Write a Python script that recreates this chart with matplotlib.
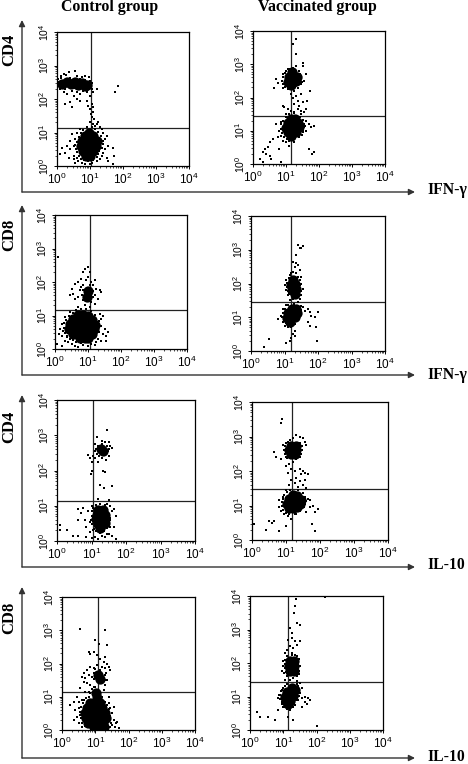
import numpy as np
import matplotlib
matplotlib.use("Agg")
import matplotlib.pyplot as plt

W, H = 468, 764

plt.rcParams['font.family'] = ['Liberation Sans', 'DejaVu Sans']
plt.rcParams['mathtext.default'] = 'regular'

tick_pos = [1, 10, 100, 1000, 10000]
tick_text = ['10$^{0}$', '10$^{1}$', '10$^{2}$', '10$^{3}$', '10$^{4}$']
group_names = ['Control group', 'Vaccinated group']
row_markers = ['CD4', 'CD8', 'CD4', 'CD8']
row_cytokines = ['IFN-γ', 'IFN-γ', 'IL-10', 'IL-10']
percents = ['1.36%', '17.12%', '1.18%', '23.04%', '13.59%', '14.56%', '4.04%', '18.57%']

# all events below are log10 decades: (x, y)
# core = solid black part of a population, dots = single events, rim = events at the blob edge
p1_core = [(0.15, 2.45), (0.3, 2.5), (0.42, 2.45), (0.55, 2.5), (0.65, 2.42), (0.75, 2.48), (0.85, 2.4), (0.92, 2.42),
           (0.98, 0.98), (0.85, 0.9), (1.1, 0.9), (0.75, 0.75), (0.9, 0.75), (1.05, 0.75), (1.2, 0.75), (0.72, 0.6),
           (0.87, 0.6), (1.02, 0.6), (1.17, 0.6), (0.78, 0.45), (0.93, 0.45), (1.08, 0.45), (0.88, 0.3), (1.0, 0.3)]
p1_dots = [(0.03, 2.6), (0.08, 2.3), (0.12, 2.7), (0.2, 2.75), (0.28, 2.72), (0.35, 2.8), (0.55, 2.85), (0.45, 2.25),
           (0.6, 2.7), (0.75, 2.65), (0.85, 2.7), (0.98, 2.65), (1.0, 2.55), (0.2, 2.2), (0.3, 2.15), (0.5, 2.1),
           (0.6, 2.2), (0.7, 2.15), (0.8, 2.25), (0.9, 2.2), (1.0, 2.1), (1.05, 2.3), (1.2, 2.3), (1.1, 2.2),
           (0.4, 1.9), (0.25, 1.85), (0.45, 1.75), (0.62, 2.0), (0.7, 1.95), (0.9, 1.95), (0.95, 1.8), (1.0, 1.7),
           (1.05, 1.85), (1.1, 1.75), (1.02, 1.55), (1.1, 1.6), (1.05, 1.45), (1.12, 1.4), (1.0, 1.3), (1.08, 1.25),
           (1.15, 1.2), (1.2, 1.25), (1.25, 1.3), (1.3, 1.15), (1.75, 2.22), (1.85, 2.38), (0.1, 0.35), (0.15, 0.55),
           (0.25, 0.4), (0.3, 0.6), (0.35, 0.25), (0.4, 0.5), (0.4, 0.75), (0.5, 0.3), (0.5, 0.2), (0.45, 0.95),
           (0.55, 0.1), (0.6, 0.25), (0.65, 0.15), (0.75, 0.1), (0.85, 0.05), (1.0, 0.05), (1.05, 0.1), (1.2, 0.15),
           (1.3, 0.2), (1.35, 0.3), (1.25, 0.35), (1.4, 0.4), (1.5, 0.25), (1.45, 0.5), (1.55, 0.6), (1.4, 0.65),
           (1.45, 0.8), (1.5, 0.9), (1.4, 1.0), (1.35, 1.1), (1.7, 0.05), (1.72, 0.3), (1.55, 0.15), (1.7, 0.55),
           (0.55, 0.8), (0.5, 0.6), (0.6, 1.0), (0.7, 1.1)]
p1_rim = [(0.55, 0.62), (0.58, 0.5), (0.6, 0.72), (0.62, 0.42), (0.66, 0.88), (0.68, 0.3), (0.72, 1.0), (0.74, 0.22),
          (0.8, 1.08), (0.82, 0.18), (0.9, 1.16), (0.95, 0.14), (1.05, 1.17), (1.1, 0.17), (1.15, 1.1), (1.2, 0.28),
          (1.25, 1.02), (1.28, 0.45), (1.32, 0.9), (1.35, 0.55), (1.38, 0.75), (1.3, 0.65), (0.05, 2.4), (0.05, 2.52),
          (0.25, 2.3), (0.4, 2.64), (0.55, 2.32), (0.7, 2.6), (0.85, 2.58), (1.03, 2.4), (1.06, 2.48), (0.12, 2.62)]

p2_core = [(1.18, 2.76), (1.08, 2.62), (1.22, 2.62), (1.32, 2.62), (1.06, 2.48), (1.2, 2.48), (1.3, 2.5), (1.15, 2.38),
           (1.15, 1.35), (1.28, 1.35), (1.05, 1.22), (1.2, 1.22), (1.35, 1.22), (1.0, 1.08), (1.14, 1.08), (1.28, 1.08),
           (1.4, 1.1), (1.05, 0.95), (1.2, 0.95), (1.3, 0.95), (1.15, 0.83)]
p2_dots = [(0.65, 2.3), (0.7, 2.55), (0.75, 2.45), (0.9, 2.3), (0.92, 2.7), (1.0, 2.8), (1.05, 2.25), (1.1, 2.85),
           (1.2, 2.9), (1.3, 2.95), (1.4, 2.8), (1.45, 2.65), (1.5, 2.95), (1.5, 3.05), (1.6, 2.7), (1.55, 2.5),
           (1.45, 2.4), (1.35, 2.3), (1.25, 2.2), (1.3, 3.75), (1.3, 3.3), (1.2, 3.6), (1.15, 2.1), (1.2, 2.0),
           (1.3, 2.05), (1.45, 2.1), (1.72, 2.2), (1.65, 1.9), (1.35, 1.9), (1.25, 1.8), (1.4, 1.75), (1.5, 1.85),
           (0.95, 1.7), (1.05, 1.65), (1.15, 1.6), (1.25, 1.55), (1.35, 1.65), (1.45, 1.6), (1.55, 1.55), (1.6, 1.65),
           (0.9, 1.75), (1.0, 1.5), (0.7, 1.2), (0.8, 1.0), (0.85, 1.25), (0.85, 0.85), (0.9, 0.7), (1.0, 0.65),
           (1.1, 0.55), (1.25, 0.65), (1.4, 0.8), (1.5, 0.95), (1.55, 1.2), (1.6, 1.3), (1.75, 1.1), (1.85, 1.15),
           (1.7, 1.2), (1.6, 1.0), (1.45, 1.5), (0.75, 0.8), (0.6, 0.75), (0.5, 0.65), (0.45, 0.5), (0.35, 0.45),
           (0.3, 0.35), (0.4, 0.3), (0.5, 0.25), (0.2, 0.15), (0.3, 0.05), (0.8, 0.45), (0.85, 0.05), (0.55, 0.15),
           (1.7, 0.45), (1.8, 0.3), (1.85, 0.35)]
p2_rim = [(0.88, 2.5), (0.9, 2.62), (0.92, 2.42), (0.96, 2.74), (0.98, 2.32), (1.05, 2.86), (1.45, 2.58), (1.48, 2.48),
          (1.42, 2.72), (1.38, 2.4), (0.84, 1.05), (0.86, 1.2), (0.88, 0.92), (0.92, 1.3), (0.95, 0.8), (1.0, 1.42),
          (1.02, 0.75), (1.1, 1.5), (1.1, 0.68), (1.25, 1.52), (1.25, 0.74), (1.38, 0.88), (1.42, 1.4), (1.5, 1.32),
          (1.55, 1.1), (1.52, 1.02), (1.58, 1.15), (1.48, 0.88)]

p3_core = [(0.7, 1.02), (0.85, 1.02), (1.0, 1.0), (0.55, 0.9), (0.7, 0.88), (0.85, 0.88), (1.0, 0.88), (1.13, 0.88),
           (0.45, 0.75), (0.6, 0.75), (0.75, 0.75), (0.9, 0.75), (1.05, 0.75), (1.2, 0.72), (0.42, 0.6), (0.57, 0.6),
           (0.72, 0.6), (0.87, 0.6), (1.02, 0.6), (1.17, 0.6), (0.55, 0.45), (0.7, 0.45), (0.85, 0.45), (1.0, 0.45),
           (1.12, 0.45), (0.75, 0.32), (0.9, 0.32), (1.0, 0.32), (0.98, 1.55), (1.0, 1.72)]
p3_dots = [(0.1, 2.75), (0.85, 2.3), (0.9, 2.4), (1.0, 2.45), (1.05, 2.3), (1.0, 2.15), (0.95, 2.05), (0.8, 2.1),
           (0.7, 2.0), (0.6, 1.95), (0.5, 1.8), (0.55, 1.65), (0.45, 1.6), (0.6, 1.5), (0.7, 1.55), (0.75, 1.75),
           (0.8, 1.85), (0.85, 1.45), (1.15, 1.9), (1.25, 1.8), (1.35, 1.75), (1.4, 1.7), (1.2, 1.6), (1.3, 1.5),
           (1.1, 2.0), (1.2, 2.05), (1.1, 1.4), (1.2, 1.35), (0.9, 1.3), (1.05, 1.25), (0.7, 1.25), (0.45, 1.1),
           (0.3, 0.95), (0.2, 0.75), (0.15, 0.6), (0.2, 0.4), (0.3, 0.25), (0.4, 0.2), (0.05, 0.15), (0.2, 0.1),
           (0.35, 0.35), (0.5, 0.15), (0.6, 0.1), (0.7, 0.05), (0.85, 0.12), (1.0, 0.08), (1.1, 0.15), (1.25, 0.2),
           (1.3, 0.3), (1.4, 0.25), (1.45, 0.45), (1.55, 0.4), (1.5, 0.6), (1.38, 0.7), (1.4, 0.9), (1.35, 1.05),
           (1.45, 1.0), (1.25, 0.4), (1.55, 0.25), (1.6, 0.5), (1.2, 0.12), (0.25, 0.55), (0.12, 0.45)]
p3_rim = [(0.26, 0.62), (0.28, 0.78), (0.3, 0.48), (0.34, 0.88), (0.36, 0.4), (0.42, 1.0), (0.44, 0.3), (0.55, 1.08),
          (0.55, 0.26), (0.65, 1.16), (0.65, 0.2), (0.8, 1.18), (0.8, 0.18), (0.95, 1.2), (0.95, 0.2), (1.1, 1.12),
          (1.1, 0.28), (1.2, 1.02), (1.22, 0.36), (1.32, 0.85), (1.34, 0.52), (1.36, 0.68), (0.82, 1.6), (0.84, 1.75),
          (0.86, 1.9), (1.14, 1.55), (1.15, 1.72), (1.05, 1.92)]

p4_core = [(1.25, 2.1), (1.32, 2.0), (1.2, 1.95), (1.33, 1.85), (1.22, 1.8), (1.3, 1.7),
           (1.22, 1.25), (1.35, 1.25), (1.1, 1.12), (1.22, 1.1), (1.36, 1.12), (1.08, 0.98), (1.2, 0.98), (1.3, 1.0),
           (1.15, 0.87)]
p4_dots = [(1.4, 3.15), (1.45, 3.05), (1.5, 3.05), (1.55, 3.1), (1.35, 2.85), (1.25, 2.65), (1.35, 2.6), (1.3, 2.5),
           (1.4, 2.55), (1.45, 2.4), (1.25, 2.35), (1.2, 2.3), (1.35, 2.3), (1.5, 2.2), (1.05, 2.1), (1.0, 1.95),
           (1.03, 1.8), (1.1, 1.65), (1.5, 2.0), (1.55, 1.85), (1.5, 1.65), (1.45, 1.55), (1.35, 1.6), (1.25, 1.55),
           (1.15, 1.5), (1.4, 1.45), (1.05, 1.35), (0.95, 1.25), (0.9, 1.05), (0.8, 0.95), (0.95, 0.85), (1.0, 0.75),
           (1.1, 0.7), (1.2, 0.72), (1.3, 0.8), (1.4, 1.0), (1.5, 1.1), (1.55, 1.3), (1.6, 1.2), (1.7, 1.25),
           (1.75, 1.15), (1.8, 1.05), (1.9, 1.0), (2.0, 1.15), (1.7, 0.85), (1.75, 0.75), (1.95, 0.7), (1.3, 0.6),
           (1.25, 0.5), (1.2, 0.4), (1.15, 0.3), (1.3, 0.45), (0.55, 0.35), (0.4, 0.12), (1.97, 0.3), (1.05, 0.25)]
p4_rim = [(1.06, 1.9), (1.08, 2.02), (1.1, 1.78), (1.12, 2.15), (1.14, 1.68), (1.45, 2.1), (1.47, 1.95), (1.48, 1.78),
          (1.42, 1.68), (1.4, 2.2), (1.15, 2.25), (0.94, 1.02), (0.96, 1.14), (0.98, 0.92), (1.02, 1.25), (1.04, 0.82),
          (1.1, 1.35), (1.12, 0.75), (1.28, 1.4), (1.25, 0.82), (1.38, 0.9), (1.48, 1.22), (1.5, 1.32), (1.45, 1.05)]

p5_core = [(1.28, 2.6), (1.33, 2.56),
           (1.2, 0.88), (1.33, 0.88), (1.15, 0.75), (1.28, 0.75), (1.4, 0.75), (1.13, 0.62), (1.26, 0.62), (1.38, 0.62),
           (1.18, 0.48), (1.3, 0.48), (1.38, 0.5), (1.25, 0.38)]
p5_dots = [(1.45, 3.15), (1.15, 2.95), (1.3, 2.85), (1.4, 2.8), (1.5, 2.8), (1.55, 2.7), (1.6, 2.65), (1.45, 2.7),
           (1.1, 2.75), (1.05, 2.4), (0.95, 2.35), (0.9, 2.45), (1.0, 2.25), (1.1, 2.35), (1.2, 2.25), (1.3, 2.35),
           (1.42, 2.3), (1.5, 2.4), (1.0, 2.0), (0.98, 1.9), (1.32, 2.0), (1.4, 1.95), (1.25, 1.6), (1.35, 1.5),
           (1.6, 1.55), (1.2, 1.2), (1.5, 1.15), (1.45, 1.05), (1.0, 1.0), (0.9, 0.85), (0.75, 0.95), (0.6, 0.9),
           (0.7, 0.8), (0.8, 0.6), (0.6, 0.6), (0.85, 0.4), (0.95, 0.55), (0.95, 0.25), (1.05, 0.3), (0.1, 0.45),
           (0.1, 0.3), (0.3, 0.3), (0.45, 0.15), (0.6, 0.15), (0.85, 0.1), (1.0, 0.08), (1.1, 0.12), (1.2, 0.06),
           (1.3, 0.15), (1.4, 0.12), (1.5, 0.2), (1.6, 0.15), (1.7, 0.05), (1.55, 0.4), (1.65, 0.4), (1.55, 0.6),
           (1.6, 0.85), (1.65, 0.9), (1.55, 1.0), (1.45, 0.2), (1.7, 0.7)]
p5_rim = [(1.1, 2.55), (1.12, 2.62), (1.15, 2.48), (1.18, 2.7), (1.22, 2.42), (1.3, 2.74), (1.4, 2.45), (1.48, 2.55),
          (1.5, 2.62), (1.0, 0.72), (1.0, 0.85), (0.98, 0.6), (1.02, 0.48), (1.03, 0.95), (1.08, 0.35), (1.12, 1.03),
          (1.12, 0.28), (1.25, 1.05), (1.25, 0.22), (1.38, 1.02), (1.35, 0.28), (1.46, 0.92), (1.52, 0.78), (1.54, 0.65),
          (1.5, 0.48), (1.45, 0.36)]

p6_core = [(1.15, 2.72), (1.28, 2.72), (1.1, 2.6), (1.22, 2.6), (1.3, 2.62), (1.15, 2.5), (1.25, 2.5),
           (1.2, 1.3), (1.32, 1.28), (1.08, 1.18), (1.22, 1.18), (1.36, 1.18), (1.45, 1.15), (1.02, 1.05), (1.16, 1.05),
           (1.3, 1.05), (1.4, 1.05), (1.1, 0.92), (1.22, 0.92), (1.32, 0.95)]
p6_dots = [(0.85, 3.4), (0.88, 3.5), (0.65, 2.55), (0.72, 2.4), (0.85, 2.35), (0.9, 2.75), (1.0, 2.4), (1.05, 2.85),
           (1.2, 2.95), (1.3, 3.05), (1.4, 3.0), (1.5, 2.95), (1.55, 2.85), (1.6, 2.75), (1.45, 2.5), (1.3, 2.35),
           (1.2, 2.25), (1.1, 2.2), (1.0, 2.15), (1.15, 2.05), (1.25, 2.0), (1.05, 1.95), (1.4, 2.05), (1.5, 2.0),
           (1.45, 1.9), (1.55, 1.95), (1.65, 1.9), (1.3, 1.8), (1.15, 1.75), (1.25, 1.65), (1.4, 1.7), (1.55, 1.75),
           (1.1, 1.6), (1.35, 1.55), (1.5, 1.6), (1.6, 1.5), (1.0, 1.45), (0.9, 1.25), (0.8, 1.15), (0.78, 0.95),
           (0.85, 0.85), (0.95, 0.75), (1.05, 0.7), (1.15, 0.6), (1.3, 0.75), (1.45, 0.9), (1.55, 1.05), (1.65, 1.2),
           (1.7, 1.15), (1.8, 1.0), (1.95, 0.9), (1.85, 0.8), (1.7, 0.95), (1.6, 0.8), (0.5, 0.55), (0.6, 0.5),
           (0.65, 0.55), (0.05, 0.45), (0.4, 0.28), (0.78, 0.25), (1.75, 0.45), (1.85, 0.25), (1.0, 0.4)]
p6_rim = [(0.94, 2.6), (0.96, 2.72), (0.97, 2.48), (1.0, 2.82), (1.04, 2.38), (1.12, 2.9), (1.4, 2.4), (1.46, 2.6),
          (1.46, 2.72), (1.42, 2.82), (0.87, 1.1), (0.88, 1.0), (0.9, 1.18), (0.92, 0.88), (0.95, 1.3), (1.0, 0.78),
          (1.02, 1.38), (1.1, 0.76), (1.12, 1.45), (1.25, 0.75), (1.35, 1.45), (1.42, 0.85), (1.5, 1.35), (1.55, 1.25),
          (1.58, 1.12), (1.52, 0.95)]

p7_core = [(1.08, 1.65), (1.15, 1.52), (1.02, 1.1), (1.05, 0.95), (0.85, 0.8), (1.0, 0.8), (1.13, 0.8),
           (0.75, 0.65), (0.9, 0.65), (1.05, 0.65), (1.2, 0.65), (0.7, 0.5), (0.85, 0.5), (1.0, 0.5), (1.15, 0.5),
           (1.28, 0.5), (0.72, 0.35), (0.87, 0.35), (1.02, 0.35), (1.17, 0.35), (1.32, 0.35), (0.78, 0.2), (0.93, 0.2),
           (1.08, 0.2), (1.22, 0.2), (0.95, 0.08), (1.1, 0.08), (1.25, 0.08)]
p7_dots = [(2.3, 4.0), (0.55, 3.05), (1.3, 3.0), (1.0, 2.7), (1.1, 2.6), (1.35, 2.55), (0.8, 2.35), (0.85, 2.3),
           (0.95, 2.35), (1.05, 2.25), (1.3, 2.2), (1.15, 2.15), (1.25, 2.05), (1.35, 2.0), (1.4, 1.9), (1.45, 1.8),
           (1.3, 1.85), (1.2, 1.9), (1.05, 1.95), (0.95, 1.85), (0.85, 1.9), (0.75, 1.8), (0.65, 1.7), (0.6, 1.6),
           (0.7, 1.55), (0.8, 1.65), (0.9, 1.6), (0.75, 1.4), (0.85, 1.35), (0.65, 1.45), (0.95, 1.3), (1.3, 1.35),
           (1.35, 1.5), (1.25, 1.2), (0.8, 1.15), (0.7, 1.15), (0.55, 1.25), (0.45, 1.0), (0.35, 0.85), (0.5, 0.85),
           (0.25, 0.75), (0.4, 0.6), (0.45, 0.4), (0.35, 0.3), (0.5, 0.2), (0.5, 0.65), (0.6, 0.1), (1.4, 0.8),
           (1.45, 0.65), (1.55, 0.7), (1.4, 1.0), (1.5, 0.5), (1.45, 0.3), (1.55, 0.3), (1.65, 0.25), (1.5, 0.15),
           (1.6, 0.1), (1.45, 0.08), (1.7, 0.05), (1.62, 0.2), (1.4, 0.45), (0.55, 0.45), (0.6, 0.9)]
p7_rim = [(0.55, 0.55), (0.56, 0.35), (0.58, 0.7), (0.6, 0.2), (0.62, 0.8), (0.65, 0.9), (0.7, 0.12), (0.72, 0.95),
          (0.8, 1.0), (0.85, 1.1), (0.9, 1.22), (1.0, 1.3), (1.15, 1.12), (1.2, 1.0), (1.28, 0.85), (1.35, 0.75),
          (1.4, 0.62), (1.45, 0.42), (1.48, 0.22), (0.95, 1.52), (0.97, 1.7), (1.0, 1.82), (1.15, 1.8), (1.28, 1.65),
          (1.3, 1.5), (1.32, 1.72)]

p8_core = [(1.2, 2.05), (1.32, 2.05), (1.18, 1.92), (1.33, 1.92), (1.25, 1.85), (1.2, 1.75), (1.32, 1.75),
           (1.25, 1.24), (1.35, 1.2), (1.12, 1.12), (1.25, 1.12), (1.05, 1.0), (1.18, 1.0), (1.3, 1.02), (1.08, 0.88),
           (1.2, 0.88), (1.15, 0.78)]
p8_dots = [(1.38, 3.9), (1.35, 3.7), (1.32, 3.5), (1.4, 3.2), (1.5, 3.12), (1.2, 3.05), (1.25, 2.9), (1.15, 2.7),
           (1.25, 2.75), (1.35, 2.65), (1.5, 2.65), (1.4, 2.55), (1.3, 2.45), (1.2, 2.5), (1.1, 2.4), (1.05, 2.3),
           (1.25, 2.3), (1.35, 2.25), (1.0, 2.05), (0.98, 1.9), (0.95, 1.75), (1.02, 1.7), (1.45, 2.05), (1.5, 1.9),
           (1.48, 1.75), (1.42, 1.6), (1.3, 1.55), (1.2, 1.5), (1.1, 1.6), (1.05, 1.5), (1.4, 1.45), (1.5, 1.4),
           (1.55, 1.25), (1.5, 1.1), (1.45, 1.3), (0.95, 1.2), (0.9, 1.05), (0.85, 0.95), (0.95, 0.85), (1.0, 0.7),
           (1.1, 0.65), (1.2, 0.6), (1.35, 0.75), (1.45, 0.9), (1.55, 0.95), (1.65, 1.0), (1.75, 0.95), (1.8, 0.9),
           (1.65, 0.85), (1.7, 0.78), (0.2, 0.55), (0.3, 0.4), (0.55, 0.4), (0.75, 0.3), (1.15, 0.4), (1.3, 0.3),
           (2.0, 0.12), (2.25, 3.98), (0.85, 0.6), (1.55, 0.7)]
p8_rim = [(1.04, 1.85), (1.05, 1.98), (1.06, 2.1), (1.08, 1.72), (1.1, 2.2), (1.12, 1.62), (1.45, 1.98), (1.48, 2.12),
          (1.4, 2.22), (1.25, 2.24), (1.46, 1.68), (0.88, 1.05), (0.9, 0.92), (0.92, 1.15), (0.95, 0.78), (0.98, 1.25),
          (1.02, 0.7), (1.05, 1.3), (1.1, 1.38), (1.12, 0.64), (1.28, 0.7), (1.38, 0.9), (1.46, 1.02), (1.48, 1.18),
          (1.4, 1.38)]

# one scatter per panel: control/vaccinated, row by row
panel_cores = [p1_core, p2_core, p3_core, p4_core, p5_core, p6_core, p7_core, p8_core]
panel_dots = [p1_dots + p1_rim, p2_dots + p2_rim, p3_dots + p3_rim, p4_dots + p4_rim,
              p5_dots + p5_rim, p6_dots + p6_rim, p7_dots + p7_rim, p8_dots + p8_rim]
quadrant_x = [1.04, 1.16, 1.06, 1.19, 1.04, 1.17, 1.08, 1.14]
quadrant_y = [1.13, 1.44, 1.16, 1.45, 1.14, 1.48, 1.14, 1.44]

# left, right, top, bottom of each plot box in pixels
boxes = [(57, 189, 32, 166), (253, 385, 31, 164),
         (55, 187, 215, 349), (251, 385, 216, 351),
         (57, 195, 400, 541), (252, 388, 402, 540),
         (62, 195, 597, 730), (250, 383, 596, 730)]
pct_pos = [(187, 43), (382, 42), (183, 229), (382, 228), (191, 415), (383, 417), (189, 612), (379, 611)]
arrow_top = [20, 205, 395, 587]
arrow_y = [192, 375, 567, 758]
label_y = [50, 235, 427, 618]
cytokine_y = [190, 375, 565, 757]
SERIF = ['Liberation Serif', 'DejaVu Serif']


def plot_panel(fig, i):
    left, right, top, bottom = boxes[i]
    ax = fig.add_axes([left / W, 1 - bottom / H, (right - left) / W, (bottom - top) / H])
    ax.set_xscale('log')
    ax.set_yscale('log')

    ax.axvline(10 ** quadrant_x[i], color='#222222', lw=0.9, zorder=1)
    ax.axhline(10 ** quadrant_y[i], color='#222222', lw=0.9, zorder=1)

    core = 10.0 ** np.array(panel_cores[i])
    dots = 10.0 ** np.array(panel_dots[i])
    ax.scatter(core[:, 0], core[:, 1], s=55, c='black', linewidths=0, zorder=2)
    ax.scatter(dots[:, 0], dots[:, 1], s=0.6, c='black', marker='s', linewidths=0, zorder=3)

    ax.set_xlim(1, 10000)
    ax.set_ylim(1, 10000)
    for axis in (ax.xaxis, ax.yaxis):
        axis.set_minor_locator(matplotlib.ticker.LogLocator(base=10, subs=np.arange(2, 10), numticks=10))
        axis.set_minor_formatter(matplotlib.ticker.NullFormatter())
    ax.set_xticks(tick_pos, tick_text)
    ax.set_yticks(tick_pos, tick_text)
    ax.tick_params(axis='x', which='major', length=2.5, width=0.7, pad=1.5, labelsize=8.5)
    ax.tick_params(axis='y', which='major', length=2.5, width=0.7, pad=1.5, labelsize=7.5, labelrotation=90)
    ax.tick_params(which='minor', length=1.3, width=0.5)
    for lab in ax.get_yticklabels():
        lab.set_va('center')
    for spine in ax.spines.values():
        spine.set_linewidth(0.9)


fig = plt.figure(figsize=(W / 100, H / 100), dpi=100)

# page layer in pixel coordinates for the long arrows and outer labels
page = fig.add_axes([0, 0, 1, 1])
page.set_xlim(0, W)
page.set_ylim(H, 0)
page.axis('off')

for n in range(len(boxes)):
    plot_panel(fig, n)
    page.text(pct_pos[n][0], pct_pos[n][1], percents[n], ha='right', va='center', fontsize=9.3)

page.text(110, 7, group_names[0], family=SERIF, weight='bold', fontsize=11.4, ha='center', va='center')
page.text(317, 7, group_names[1], family=SERIF, weight='bold', fontsize=11.4, ha='center', va='center')

for r in range(4):
    arrow_style = dict(arrowstyle='-|>', color='#333333', lw=1.0, mutation_scale=9, shrinkA=0, shrinkB=0)
    page.annotate('', xy=(22, arrow_top[r]), xytext=(22, arrow_y[r]), arrowprops=arrow_style)
    page.annotate('', xy=(415, arrow_y[r]), xytext=(22, arrow_y[r]), arrowprops=arrow_style)
    page.text(9, label_y[r], row_markers[r], family=SERIF, weight='bold', fontsize=12,
              rotation=90, ha='center', va='center')
    page.text(427, cytokine_y[r], row_cytokines[r], family=SERIF, weight='bold', fontsize=11.3,
              ha='left', va='center')

fig.savefig('out.png', dpi=100)
